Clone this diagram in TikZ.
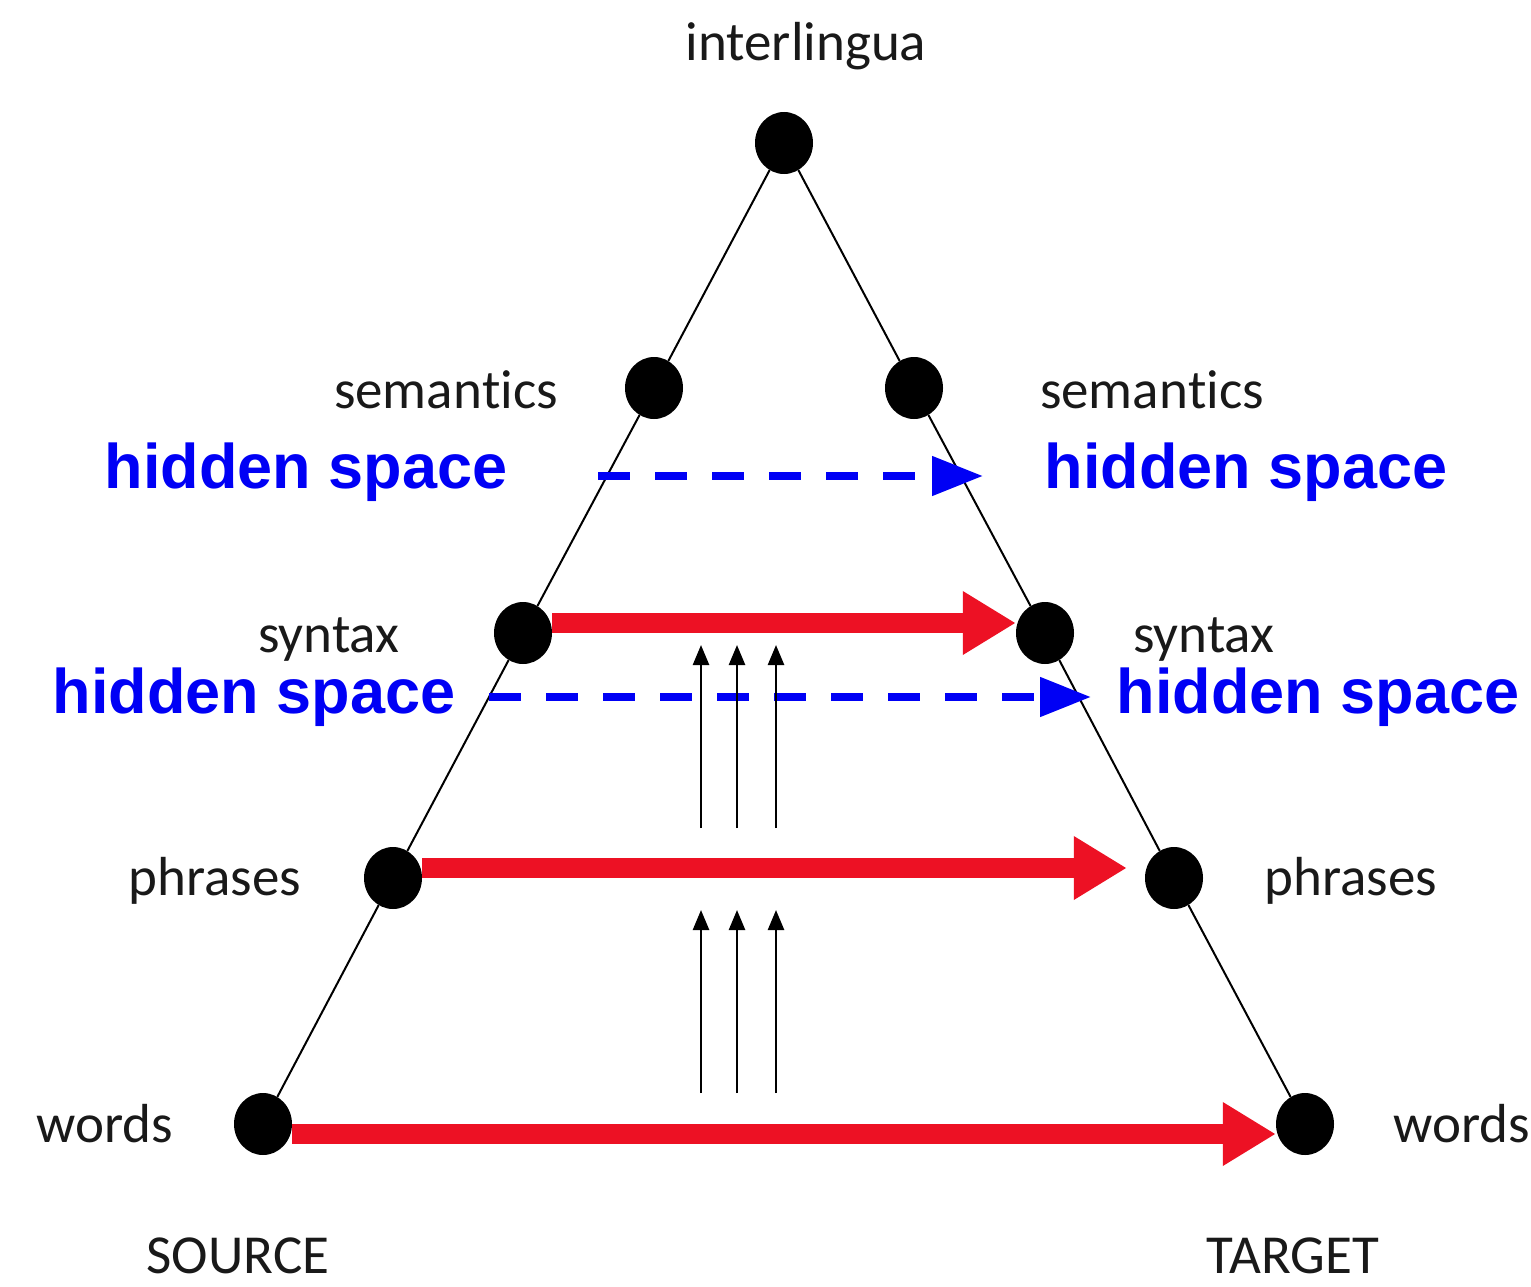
\documentclass[tikz,border=0pt]{standalone}
\usepackage{fontspec}
\setmainfont{Carlito}[Ligatures={NoCommon},RawFeature={-liga;-clig;-dlig}]
\newfontfamily\hfont{Liberation Sans}
\usetikzlibrary{arrows.meta,shapes.geometric}
\definecolor{arrred}{RGB}{237,17,36}
\definecolor{hblue}{RGB}{0,0,245}
\newcommand{\semword}{seman\kern0pt tics}
\begin{document}
\begin{tikzpicture}[x=1pt,y=-1pt,
  dot/.style={ellipse,fill=black,inner sep=0pt,minimum width=58pt,minimum height=62pt},
  lbl/.style={anchor=base,inner sep=0pt,text=black!90,font=\fontsize{55}{60}\selectfont},
  hid/.style={anchor=base,inner sep=0pt,text=hblue,font=\hfont\bfseries\fontsize{63}{70}\selectfont},
  redarr/.style={draw=arrred,line width=20pt,-{Triangle[length=53pt,width=60pt]}},
  bluearr/.style={draw=hblue,line width=8pt,dash pattern=on 32pt off 25pt,-{Triangle[length=51pt,width=38pt]}},
  uparr/.style={draw=black,line width=2.5pt,-{Triangle[length=20pt,width=16pt]}},
  tri/.style={draw=black,line width=2pt}]
\useasboundingbox[fill=white] (0,0) rectangle (1531,1287);

% dots
\node[dot] (top)  at (784,143) {};
\node[dot] (semL) at (654,388) {};
\node[dot] (semR) at (914,388) {};
\node[dot] (synL) at (523,633) {};
\node[dot] (synR) at (1045,633) {};
\node[dot] (phrL) at (393,878) {};
\node[dot] (phrR) at (1174,878) {};
\node[dot] (wL)   at (263,1124) {};
\node[dot] (wR)   at (1305,1124) {};

% triangle sides
\draw[tri] (top) -- (semL) -- (synL) -- (phrL) -- (wL);
\draw[tri] (top) -- (semR) -- (synR) -- (phrR) -- (wR);

% labels
\node[lbl] (tInter) at (806,61) {interlingua};
\node[lbl] (tSemL) at (446,408) {\semword};
\node[lbl] (tSemR) at (1152,408) {\semword};
\node[lbl] (tSynL) at (329,652) {syntax};
\node[lbl] (tSynR) at (1204,652) {syntax};
\node[lbl] (tPhrL) at (215,895) {phrases};
\node[lbl] (tPhrR) at (1351,895) {phrases};
\node[lbl] (tWL) at (105,1142) {words};
\node[lbl] (tWR) at (1462,1142) {words};
\node[lbl] (tSrc) at (238,1273) {SOURCE};
\node[lbl] (tTgt) at (1293,1273) {TARGET};

\node[hid] (hL1) at (306,488) {hidden space};
\node[hid] (hR1) at (1246,488) {hidden space};
\node[hid] (hL2) at (254,713) {hidden space};
\node[hid] (hR2) at (1318,713) {hidden space};

% red arrows
\draw[redarr] ([yshift=10pt]synL.east) -- ([yshift=10pt]synR.west);
\draw[redarr] ([yshift=10pt]phrL.east) -- ([yshift=10pt,xshift=-18pt]phrR.west);
\draw[redarr] ([yshift=-10pt]wL.east) -- ([yshift=-10pt]wR.west);

% blue dashed arrows
\coordinate (bs1) at (598,476);
\coordinate (be1) at (983,476);
\coordinate (bs2) at (489,697);
\coordinate (be2) at (1091,697);
\draw[bluearr] (bs1) -- (be1);
\draw[bluearr] (bs2) -- (be2);

% thin upward arrows
\foreach \i/\x in {1/701,2/737,3/776}{
  \coordinate (ua\i) at (\x,828);
  \coordinate (ub\i) at (\x,645);
  \coordinate (la\i) at (\x,1093);
  \coordinate (lb\i) at (\x,910);
  \draw[uparr] (ua\i) -- (ub\i);
  \draw[uparr] (la\i) -- (lb\i);
}
\end{tikzpicture}
\end{document}
